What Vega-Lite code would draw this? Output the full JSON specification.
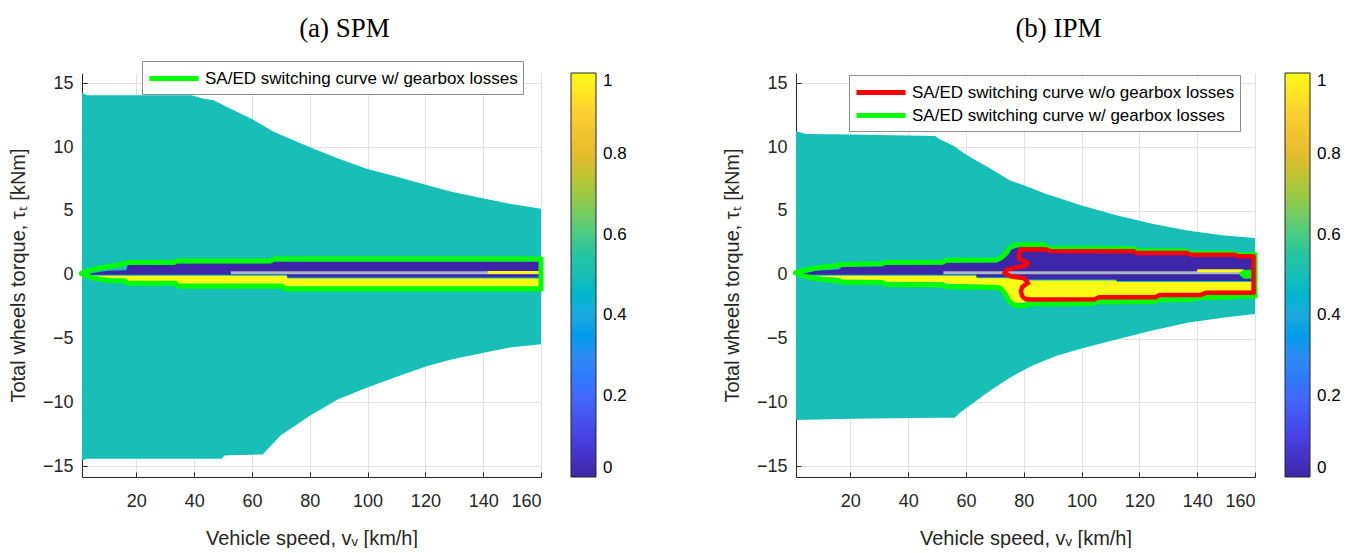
{
  "$schema": "https://vega.github.io/schema/vega-lite/v6.json",
  "background": "white",
  "padding": {"left": 8, "top": 14, "right": 0, "bottom": 0},
  "spacing": 95,
  "resolve": {
    "scale": {"fill": "independent", "stroke": "independent", "x": "independent", "y": "independent"},
    "legend": {"fill": "independent", "stroke": "independent"}
  },
  "datasets": {
    "spm_env": [
      {"x": 1.2, "hi": 14.24, "lo": -14.55, "v": 0.5},
      {"x": 3, "hi": 14.06, "lo": -14.42, "v": 0.5},
      {"x": 39, "hi": 14.06, "lo": -14.42, "v": 0.5},
      {"x": 43, "hi": 13.8, "lo": -14.42, "v": 0.5},
      {"x": 46.7, "hi": 13.66, "lo": -14.42, "v": 0.5},
      {"x": 49.5, "hi": 13.35, "lo": -14.42, "v": 0.5},
      {"x": 50.5, "hi": 13.24, "lo": -14.16, "v": 0.5},
      {"x": 52.6, "hi": 13.0, "lo": -14.14, "v": 0.5},
      {"x": 60, "hi": 12.2, "lo": -14.1, "v": 0.5},
      {"x": 63.7, "hi": 11.7, "lo": -14.08, "v": 0.5},
      {"x": 67.5, "hi": 11.2, "lo": -13.17, "v": 0.5},
      {"x": 69.9, "hi": 10.97, "lo": -12.6, "v": 0.5},
      {"x": 79.9, "hi": 10.0, "lo": -11.07, "v": 0.5},
      {"x": 89.8, "hi": 9.1, "lo": -9.76, "v": 0.5},
      {"x": 99.7, "hi": 8.3, "lo": -8.85, "v": 0.5},
      {"x": 110.8, "hi": 7.64, "lo": -7.93, "v": 0.5},
      {"x": 120.7, "hi": 7.0, "lo": -7.15, "v": 0.5},
      {"x": 129.4, "hi": 6.47, "lo": -6.62, "v": 0.5},
      {"x": 140.6, "hi": 5.94, "lo": -6.1, "v": 0.5},
      {"x": 149.2, "hi": 5.55, "lo": -5.7, "v": 0.5},
      {"x": 160, "hi": 5.16, "lo": -5.45, "v": 0.5}
    ],
    "spm_band": [
      {"r": "b", "v": 0, "x": 4, "hi": 0.1, "lo": 0.0},
      {"r": "b", "v": 0, "x": 10, "hi": 0.3, "lo": 0.0},
      {"r": "b", "v": 0, "x": 16.5, "hi": 0.35, "lo": 0.0},
      {"r": "b", "v": 0, "x": 17, "hi": 0.76, "lo": 0.0},
      {"r": "b", "v": 0, "x": 33, "hi": 0.76, "lo": 0.0},
      {"r": "b", "v": 0, "x": 34, "hi": 0.89, "lo": 0.0},
      {"r": "b", "v": 0, "x": 66.5, "hi": 0.89, "lo": 0.0},
      {"r": "b", "v": 0, "x": 67.5, "hi": 1.03, "lo": 0.0},
      {"r": "b", "v": 0, "x": 72, "hi": 1.03, "lo": 0.0},
      {"r": "b", "v": 0, "x": 72.3, "hi": 1.03, "lo": -0.22},
      {"r": "b", "v": 0, "x": 160, "hi": 1.03, "lo": -0.22},
      {"r": "y", "v": 1, "x": 4, "hi": -0.06, "lo": -0.12},
      {"r": "y", "v": 1, "x": 8, "hi": -0.08, "lo": -0.22},
      {"r": "y", "v": 1, "x": 12, "hi": -0.08, "lo": -0.28},
      {"r": "y", "v": 1, "x": 16, "hi": -0.08, "lo": -0.31},
      {"r": "y", "v": 1, "x": 17, "hi": -0.08, "lo": -0.49},
      {"r": "y", "v": 1, "x": 33.5, "hi": -0.08, "lo": -0.49},
      {"r": "y", "v": 1, "x": 34.5, "hi": -0.08, "lo": -0.71},
      {"r": "y", "v": 1, "x": 70.5, "hi": -0.08, "lo": -0.71},
      {"r": "y", "v": 1, "x": 71.5, "hi": -0.08, "lo": -0.93},
      {"r": "y", "v": 1, "x": 72, "hi": -0.08, "lo": -0.93},
      {"r": "y", "v": 1, "x": 72.3, "hi": -0.3, "lo": -0.93},
      {"r": "y", "v": 1, "x": 160, "hi": -0.3, "lo": -0.93}
    ],
    "spm_strip": [
      {"g": "gray", "x": 52.7, "y": 0.16},
      {"g": "gray", "x": 160, "y": 0.16},
      {"g": "yel", "x": 141.5, "y": 0.18},
      {"g": "yel", "x": 159.5, "y": 0.18}
    ],
    "spm_curve": [
      {"k": "SA/ED switching curve w/ gearbox losses", "p": "g1", "i": 0, "x": 1, "y": 0.1},
      {"k": "SA/ED switching curve w/ gearbox losses", "p": "g1", "i": 1, "x": 4, "y": 0.35},
      {"k": "SA/ED switching curve w/ gearbox losses", "p": "g1", "i": 2, "x": 8, "y": 0.55},
      {"k": "SA/ED switching curve w/ gearbox losses", "p": "g1", "i": 3, "x": 12, "y": 0.7},
      {"k": "SA/ED switching curve w/ gearbox losses", "p": "g1", "i": 4, "x": 16, "y": 0.85},
      {"k": "SA/ED switching curve w/ gearbox losses", "p": "g1", "i": 5, "x": 17, "y": 0.95},
      {"k": "SA/ED switching curve w/ gearbox losses", "p": "g1", "i": 6, "x": 33, "y": 0.95},
      {"k": "SA/ED switching curve w/ gearbox losses", "p": "g1", "i": 7, "x": 34, "y": 1.08},
      {"k": "SA/ED switching curve w/ gearbox losses", "p": "g1", "i": 8, "x": 66.5, "y": 1.08},
      {"k": "SA/ED switching curve w/ gearbox losses", "p": "g1", "i": 9, "x": 67.5, "y": 1.22},
      {"k": "SA/ED switching curve w/ gearbox losses", "p": "g1", "i": 10, "x": 160, "y": 1.22},
      {"k": "SA/ED switching curve w/ gearbox losses", "p": "g1", "i": 11, "x": 160, "y": -1.12},
      {"k": "SA/ED switching curve w/ gearbox losses", "p": "g1", "i": 12, "x": 71.5, "y": -1.12},
      {"k": "SA/ED switching curve w/ gearbox losses", "p": "g1", "i": 13, "x": 70.5, "y": -0.9},
      {"k": "SA/ED switching curve w/ gearbox losses", "p": "g1", "i": 14, "x": 34.5, "y": -0.9},
      {"k": "SA/ED switching curve w/ gearbox losses", "p": "g1", "i": 15, "x": 33.5, "y": -0.68},
      {"k": "SA/ED switching curve w/ gearbox losses", "p": "g1", "i": 16, "x": 17, "y": -0.68},
      {"k": "SA/ED switching curve w/ gearbox losses", "p": "g1", "i": 17, "x": 16, "y": -0.5},
      {"k": "SA/ED switching curve w/ gearbox losses", "p": "g1", "i": 18, "x": 12, "y": -0.47},
      {"k": "SA/ED switching curve w/ gearbox losses", "p": "g1", "i": 19, "x": 8, "y": -0.4},
      {"k": "SA/ED switching curve w/ gearbox losses", "p": "g1", "i": 20, "x": 4, "y": -0.2},
      {"k": "SA/ED switching curve w/ gearbox losses", "p": "g1", "i": 21, "x": 1, "y": 0.1}
    ],
    "ipm_env": [
      {"x": 1.2, "hi": 11.23, "lo": -11.39, "v": 0.5},
      {"x": 4.8, "hi": 11.02, "lo": -11.37, "v": 0.5},
      {"x": 20.9, "hi": 10.98, "lo": -11.28, "v": 0.5},
      {"x": 49.3, "hi": 10.86, "lo": -11.21, "v": 0.5},
      {"x": 50.6, "hi": 10.65, "lo": -11.21, "v": 0.5},
      {"x": 55.5, "hi": 10.13, "lo": -11.2, "v": 0.5},
      {"x": 56.1, "hi": 10.04, "lo": -11.2, "v": 0.5},
      {"x": 58, "hi": 9.73, "lo": -10.8, "v": 0.5},
      {"x": 60.4, "hi": 9.35, "lo": -10.4, "v": 0.5},
      {"x": 62.9, "hi": 9.03, "lo": -10.0, "v": 0.5},
      {"x": 66.6, "hi": 8.56, "lo": -9.37, "v": 0.5},
      {"x": 69.1, "hi": 8.22, "lo": -8.98, "v": 0.5},
      {"x": 75.3, "hi": 7.38, "lo": -8.06, "v": 0.5},
      {"x": 80.2, "hi": 6.99, "lo": -7.45, "v": 0.5},
      {"x": 82.7, "hi": 6.77, "lo": -7.15, "v": 0.5},
      {"x": 87.7, "hi": 6.33, "lo": -6.69, "v": 0.5},
      {"x": 91.4, "hi": 6.06, "lo": -6.36, "v": 0.5},
      {"x": 100, "hi": 5.42, "lo": -5.79, "v": 0.5},
      {"x": 112.4, "hi": 4.63, "lo": -5.05, "v": 0.5},
      {"x": 124.8, "hi": 3.98, "lo": -4.35, "v": 0.5},
      {"x": 137.1, "hi": 3.45, "lo": -3.74, "v": 0.5},
      {"x": 149.5, "hi": 3.06, "lo": -3.35, "v": 0.5},
      {"x": 160, "hi": 2.88, "lo": -3.09, "v": 0.5}
    ],
    "ipm_band": [
      {"r": "b", "v": 0, "x": 4, "hi": 0.1, "lo": 0.0},
      {"r": "b", "v": 0, "x": 8, "hi": 0.3, "lo": 0.0},
      {"r": "b", "v": 0, "x": 16, "hi": 0.4, "lo": 0.0},
      {"r": "b", "v": 0, "x": 17, "hi": 0.6, "lo": 0.0},
      {"r": "b", "v": 0, "x": 31, "hi": 0.66, "lo": 0.0},
      {"r": "b", "v": 0, "x": 32, "hi": 0.78, "lo": 0.0},
      {"r": "b", "v": 0, "x": 52, "hi": 0.8, "lo": 0.0},
      {"r": "b", "v": 0, "x": 53, "hi": 0.95, "lo": 0.0},
      {"r": "b", "v": 0, "x": 63.5, "hi": 0.96, "lo": 0.0},
      {"r": "b", "v": 0, "x": 63.7, "hi": 0.96, "lo": -0.2},
      {"r": "b", "v": 0, "x": 70.5, "hi": 0.97, "lo": -0.2},
      {"r": "b", "v": 0, "x": 72, "hi": 1.1, "lo": -0.2},
      {"r": "b", "v": 0, "x": 74, "hi": 1.5, "lo": -0.2},
      {"r": "b", "v": 0, "x": 75.5, "hi": 1.95, "lo": -0.2},
      {"r": "b", "v": 0, "x": 78, "hi": 2.15, "lo": -0.2},
      {"r": "b", "v": 0, "x": 79.8, "hi": 2.15, "lo": -0.2},
      {"r": "b", "v": 0, "x": 80, "hi": 2.15, "lo": -0.38},
      {"r": "b", "v": 0, "x": 87, "hi": 2.15, "lo": -0.38},
      {"r": "b", "v": 0, "x": 88, "hi": 1.9, "lo": -0.38},
      {"r": "b", "v": 0, "x": 112, "hi": 1.87, "lo": -0.38},
      {"r": "b", "v": 0, "x": 112.2, "hi": 1.87, "lo": -0.5},
      {"r": "b", "v": 0, "x": 118, "hi": 1.85, "lo": -0.5},
      {"r": "b", "v": 0, "x": 119, "hi": 1.7, "lo": -0.5},
      {"r": "b", "v": 0, "x": 136, "hi": 1.68, "lo": -0.5},
      {"r": "b", "v": 0, "x": 137, "hi": 1.53, "lo": -0.5},
      {"r": "b", "v": 0, "x": 152, "hi": 1.5, "lo": -0.5},
      {"r": "b", "v": 0, "x": 153, "hi": 1.4, "lo": -0.5},
      {"r": "b", "v": 0, "x": 160, "hi": 1.4, "lo": -0.5},
      {"r": "y", "v": 1, "x": 4, "hi": -0.06, "lo": -0.1},
      {"r": "y", "v": 1, "x": 8, "hi": -0.08, "lo": -0.15},
      {"r": "y", "v": 1, "x": 16, "hi": -0.08, "lo": -0.25},
      {"r": "y", "v": 1, "x": 17, "hi": -0.08, "lo": -0.38},
      {"r": "y", "v": 1, "x": 31, "hi": -0.08, "lo": -0.42},
      {"r": "y", "v": 1, "x": 32, "hi": -0.08, "lo": -0.56},
      {"r": "y", "v": 1, "x": 52, "hi": -0.08, "lo": -0.6},
      {"r": "y", "v": 1, "x": 53, "hi": -0.08, "lo": -0.72},
      {"r": "y", "v": 1, "x": 63.5, "hi": -0.08, "lo": -0.76},
      {"r": "y", "v": 1, "x": 63.7, "hi": -0.28, "lo": -0.76},
      {"r": "y", "v": 1, "x": 70.5, "hi": -0.28, "lo": -0.8},
      {"r": "y", "v": 1, "x": 72, "hi": -0.28, "lo": -0.9},
      {"r": "y", "v": 1, "x": 73.5, "hi": -0.28, "lo": -1.3},
      {"r": "y", "v": 1, "x": 75, "hi": -0.28, "lo": -1.9},
      {"r": "y", "v": 1, "x": 77, "hi": -0.28, "lo": -2.2},
      {"r": "y", "v": 1, "x": 79.8, "hi": -0.28, "lo": -2.2},
      {"r": "y", "v": 1, "x": 80, "hi": -0.46, "lo": -2.2},
      {"r": "y", "v": 1, "x": 82, "hi": -0.46, "lo": -2.05},
      {"r": "y", "v": 1, "x": 104, "hi": -0.46, "lo": -2.0},
      {"r": "y", "v": 1, "x": 105, "hi": -0.46, "lo": -1.9},
      {"r": "y", "v": 1, "x": 112, "hi": -0.46, "lo": -1.88},
      {"r": "y", "v": 1, "x": 112.2, "hi": -0.58, "lo": -1.88},
      {"r": "y", "v": 1, "x": 125, "hi": -0.58, "lo": -1.85},
      {"r": "y", "v": 1, "x": 126, "hi": -0.58, "lo": -1.72},
      {"r": "y", "v": 1, "x": 139, "hi": -0.58, "lo": -1.68},
      {"r": "y", "v": 1, "x": 140, "hi": -0.58, "lo": -1.55},
      {"r": "y", "v": 1, "x": 152, "hi": -0.58, "lo": -1.5},
      {"r": "y", "v": 1, "x": 153, "hi": -0.58, "lo": -1.45},
      {"r": "y", "v": 1, "x": 160, "hi": -0.58, "lo": -1.45}
    ],
    "ipm_strip": [
      {"g": "gray", "x": 52.2, "y": 0.16},
      {"g": "gray", "x": 160, "y": 0.16},
      {"g": "yel", "x": 140, "y": 0.3},
      {"g": "yel", "x": 156, "y": 0.3}
    ],
    "ipm_green": [
      {"k": "SA/ED switching curve w/ gearbox losses", "p": "g1", "i": 0, "x": 1, "y": 0.15},
      {"k": "SA/ED switching curve w/ gearbox losses", "p": "g1", "i": 1, "x": 4, "y": 0.35},
      {"k": "SA/ED switching curve w/ gearbox losses", "p": "g1", "i": 2, "x": 8, "y": 0.52},
      {"k": "SA/ED switching curve w/ gearbox losses", "p": "g1", "i": 3, "x": 12, "y": 0.62},
      {"k": "SA/ED switching curve w/ gearbox losses", "p": "g1", "i": 4, "x": 16, "y": 0.74},
      {"k": "SA/ED switching curve w/ gearbox losses", "p": "g1", "i": 5, "x": 17, "y": 0.8},
      {"k": "SA/ED switching curve w/ gearbox losses", "p": "g1", "i": 6, "x": 31, "y": 0.85},
      {"k": "SA/ED switching curve w/ gearbox losses", "p": "g1", "i": 7, "x": 32, "y": 0.95},
      {"k": "SA/ED switching curve w/ gearbox losses", "p": "g1", "i": 8, "x": 52, "y": 0.98},
      {"k": "SA/ED switching curve w/ gearbox losses", "p": "g1", "i": 9, "x": 53, "y": 1.13},
      {"k": "SA/ED switching curve w/ gearbox losses", "p": "g1", "i": 10, "x": 70.5, "y": 1.15},
      {"k": "SA/ED switching curve w/ gearbox losses", "p": "g1", "i": 11, "x": 72, "y": 1.3},
      {"k": "SA/ED switching curve w/ gearbox losses", "p": "g1", "i": 12, "x": 74, "y": 1.7},
      {"k": "SA/ED switching curve w/ gearbox losses", "p": "g1", "i": 13, "x": 75, "y": 2.1},
      {"k": "SA/ED switching curve w/ gearbox losses", "p": "g1", "i": 14, "x": 77, "y": 2.35},
      {"k": "SA/ED switching curve w/ gearbox losses", "p": "g1", "i": 15, "x": 87, "y": 2.35},
      {"k": "SA/ED switching curve w/ gearbox losses", "p": "g1", "i": 16, "x": 88, "y": 2.1},
      {"k": "SA/ED switching curve w/ gearbox losses", "p": "g1", "i": 17, "x": 118, "y": 2.05},
      {"k": "SA/ED switching curve w/ gearbox losses", "p": "g1", "i": 18, "x": 119, "y": 1.9},
      {"k": "SA/ED switching curve w/ gearbox losses", "p": "g1", "i": 19, "x": 136, "y": 1.88},
      {"k": "SA/ED switching curve w/ gearbox losses", "p": "g1", "i": 20, "x": 137, "y": 1.72},
      {"k": "SA/ED switching curve w/ gearbox losses", "p": "g1", "i": 21, "x": 152, "y": 1.7},
      {"k": "SA/ED switching curve w/ gearbox losses", "p": "g1", "i": 22, "x": 153, "y": 1.58},
      {"k": "SA/ED switching curve w/ gearbox losses", "p": "g1", "i": 23, "x": 160, "y": 1.58},
      {"k": "SA/ED switching curve w/ gearbox losses", "p": "g1", "i": 24, "x": 160, "y": -1.68},
      {"k": "SA/ED switching curve w/ gearbox losses", "p": "g1", "i": 25, "x": 153, "y": -1.68},
      {"k": "SA/ED switching curve w/ gearbox losses", "p": "g1", "i": 26, "x": 152, "y": -1.75},
      {"k": "SA/ED switching curve w/ gearbox losses", "p": "g1", "i": 27, "x": 140, "y": -1.8},
      {"k": "SA/ED switching curve w/ gearbox losses", "p": "g1", "i": 28, "x": 139, "y": -1.92},
      {"k": "SA/ED switching curve w/ gearbox losses", "p": "g1", "i": 29, "x": 126, "y": -1.98},
      {"k": "SA/ED switching curve w/ gearbox losses", "p": "g1", "i": 30, "x": 125, "y": -2.1},
      {"k": "SA/ED switching curve w/ gearbox losses", "p": "g1", "i": 31, "x": 105, "y": -2.15},
      {"k": "SA/ED switching curve w/ gearbox losses", "p": "g1", "i": 32, "x": 104, "y": -2.25},
      {"k": "SA/ED switching curve w/ gearbox losses", "p": "g1", "i": 33, "x": 82, "y": -2.3},
      {"k": "SA/ED switching curve w/ gearbox losses", "p": "g1", "i": 34, "x": 80, "y": -2.45},
      {"k": "SA/ED switching curve w/ gearbox losses", "p": "g1", "i": 35, "x": 77, "y": -2.42},
      {"k": "SA/ED switching curve w/ gearbox losses", "p": "g1", "i": 36, "x": 75, "y": -2.1},
      {"k": "SA/ED switching curve w/ gearbox losses", "p": "g1", "i": 37, "x": 73.5, "y": -1.5},
      {"k": "SA/ED switching curve w/ gearbox losses", "p": "g1", "i": 38, "x": 72, "y": -1.08},
      {"k": "SA/ED switching curve w/ gearbox losses", "p": "g1", "i": 39, "x": 70.5, "y": -1.0},
      {"k": "SA/ED switching curve w/ gearbox losses", "p": "g1", "i": 40, "x": 53, "y": -0.95},
      {"k": "SA/ED switching curve w/ gearbox losses", "p": "g1", "i": 41, "x": 52, "y": -0.8},
      {"k": "SA/ED switching curve w/ gearbox losses", "p": "g1", "i": 42, "x": 32, "y": -0.77},
      {"k": "SA/ED switching curve w/ gearbox losses", "p": "g1", "i": 43, "x": 31, "y": -0.62},
      {"k": "SA/ED switching curve w/ gearbox losses", "p": "g1", "i": 44, "x": 17, "y": -0.6},
      {"k": "SA/ED switching curve w/ gearbox losses", "p": "g1", "i": 45, "x": 16, "y": -0.5},
      {"k": "SA/ED switching curve w/ gearbox losses", "p": "g1", "i": 46, "x": 12, "y": -0.42},
      {"k": "SA/ED switching curve w/ gearbox losses", "p": "g1", "i": 47, "x": 8, "y": -0.3},
      {"k": "SA/ED switching curve w/ gearbox losses", "p": "g1", "i": 48, "x": 4, "y": -0.12},
      {"k": "SA/ED switching curve w/ gearbox losses", "p": "g1", "i": 49, "x": 1, "y": 0.15},
      {"k": "SA/ED switching curve w/ gearbox losses", "p": "g2", "i": 0, "x": 155.5, "y": 0.05},
      {"k": "SA/ED switching curve w/ gearbox losses", "p": "g2", "i": 1, "x": 156.5, "y": 0.2},
      {"k": "SA/ED switching curve w/ gearbox losses", "p": "g2", "i": 2, "x": 158.5, "y": 0.2},
      {"k": "SA/ED switching curve w/ gearbox losses", "p": "g2", "i": 3, "x": 159.3, "y": 0.05},
      {"k": "SA/ED switching curve w/ gearbox losses", "p": "g2", "i": 4, "x": 158.5, "y": -0.12},
      {"k": "SA/ED switching curve w/ gearbox losses", "p": "g2", "i": 5, "x": 156.5, "y": -0.12},
      {"k": "SA/ED switching curve w/ gearbox losses", "p": "g2", "i": 6, "x": 155.5, "y": 0.05}
    ],
    "ipm_red": [
      {"k": "SA/ED switching curve w/o gearbox losses", "p": "r1", "i": 0, "x": 79, "y": 2.0},
      {"k": "SA/ED switching curve w/o gearbox losses", "p": "r1", "i": 1, "x": 88, "y": 1.98},
      {"k": "SA/ED switching curve w/o gearbox losses", "p": "r1", "i": 2, "x": 89, "y": 1.85},
      {"k": "SA/ED switching curve w/o gearbox losses", "p": "r1", "i": 3, "x": 118, "y": 1.83},
      {"k": "SA/ED switching curve w/o gearbox losses", "p": "r1", "i": 4, "x": 119, "y": 1.7},
      {"k": "SA/ED switching curve w/o gearbox losses", "p": "r1", "i": 5, "x": 136.5, "y": 1.7},
      {"k": "SA/ED switching curve w/o gearbox losses", "p": "r1", "i": 6, "x": 137.5, "y": 1.57},
      {"k": "SA/ED switching curve w/o gearbox losses", "p": "r1", "i": 7, "x": 153, "y": 1.57},
      {"k": "SA/ED switching curve w/o gearbox losses", "p": "r1", "i": 8, "x": 154, "y": 1.44},
      {"k": "SA/ED switching curve w/o gearbox losses", "p": "r1", "i": 9, "x": 159.5, "y": 1.44},
      {"k": "SA/ED switching curve w/o gearbox losses", "p": "r1", "i": 10, "x": 159.5, "y": -1.42},
      {"k": "SA/ED switching curve w/o gearbox losses", "p": "r1", "i": 11, "x": 143, "y": -1.42},
      {"k": "SA/ED switching curve w/o gearbox losses", "p": "r1", "i": 12, "x": 141, "y": -1.6},
      {"k": "SA/ED switching curve w/o gearbox losses", "p": "r1", "i": 13, "x": 127, "y": -1.6},
      {"k": "SA/ED switching curve w/o gearbox losses", "p": "r1", "i": 14, "x": 125.5, "y": -1.77},
      {"k": "SA/ED switching curve w/o gearbox losses", "p": "r1", "i": 15, "x": 106, "y": -1.77},
      {"k": "SA/ED switching curve w/o gearbox losses", "p": "r1", "i": 16, "x": 104.5, "y": -1.92},
      {"k": "SA/ED switching curve w/o gearbox losses", "p": "r1", "i": 17, "x": 82, "y": -1.95},
      {"k": "SA/ED switching curve w/o gearbox losses", "p": "r1", "i": 18, "x": 80.5, "y": -1.9},
      {"k": "SA/ED switching curve w/o gearbox losses", "p": "r1", "i": 19, "x": 79.5, "y": -1.7},
      {"k": "SA/ED switching curve w/o gearbox losses", "p": "r1", "i": 20, "x": 79, "y": -1.3},
      {"k": "SA/ED switching curve w/o gearbox losses", "p": "r1", "i": 21, "x": 79.5, "y": -0.95},
      {"k": "SA/ED switching curve w/o gearbox losses", "p": "r1", "i": 22, "x": 81.5, "y": -0.65},
      {"k": "SA/ED switching curve w/o gearbox losses", "p": "r1", "i": 23, "x": 80, "y": -0.28},
      {"k": "SA/ED switching curve w/o gearbox losses", "p": "r1", "i": 24, "x": 75.5, "y": -0.12},
      {"k": "SA/ED switching curve w/o gearbox losses", "p": "r1", "i": 25, "x": 73.3, "y": 0.12},
      {"k": "SA/ED switching curve w/o gearbox losses", "p": "r1", "i": 26, "x": 74.2, "y": 0.4},
      {"k": "SA/ED switching curve w/o gearbox losses", "p": "r1", "i": 27, "x": 77, "y": 0.55},
      {"k": "SA/ED switching curve w/o gearbox losses", "p": "r1", "i": 28, "x": 80.5, "y": 0.7},
      {"k": "SA/ED switching curve w/o gearbox losses", "p": "r1", "i": 29, "x": 81.5, "y": 0.9},
      {"k": "SA/ED switching curve w/o gearbox losses", "p": "r1", "i": 30, "x": 80, "y": 1.05},
      {"k": "SA/ED switching curve w/o gearbox losses", "p": "r1", "i": 31, "x": 78.3, "y": 1.3},
      {"k": "SA/ED switching curve w/o gearbox losses", "p": "r1", "i": 32, "x": 78.5, "y": 1.7},
      {"k": "SA/ED switching curve w/o gearbox losses", "p": "r1", "i": 33, "x": 79, "y": 2.0}
    ]
  },
  "hconcat": [
    {
      "title": {"text": "(a) SPM", "offset": 18},
      "width": 459,
      "height": 404,
      "layer": [
        {
          "data": {"name": "spm_env"},
          "mark": {"type": "area"},
          "encoding": {
            "x": {"field": "x", "type": "quantitative", "scale": {"domain": [1.2, 160], "nice": false, "zero": false},
              "axis": {"title": "Vehicle speed, vᵥ [km/h]", "values": [20, 40, 60, 80, 100, 120, 140, 160]}},
            "y": {"field": "hi", "type": "quantitative", "scale": {"domain": [-15.85, 15.8], "nice": false, "zero": false},
              "axis": {"title": "Total wheels torque, τₜ [kNm]", "values": [-15, -10, -5, 0, 5, 10, 15]}},
            "y2": {"field": "lo"},
            "fill": {"field": "v", "type": "quantitative",
              "scale": {"domain": [0, 1], "range": ["#3e26a8", "#4741e5", "#4269fe", "#2d8cf3", "#1ca9df", "#18bfb6", "#4acb84", "#9dc943", "#e6bb2d", "#fccf30", "#f9fb14"]},
              "legend": {"orient": "right", "offset": 27, "title": null, "direction": "vertical", "gradientLength": 404, "gradientThickness": 25, "values": [0, 0.2, 0.4, 0.6, 0.8, 1], "format": "~g", "labelOffset": 7, "labelOverlap": false, "gradientStrokeColor": "#262626", "gradientStrokeWidth": 1}}
          }
        },
        {
          "data": {"name": "spm_band"},
          "mark": {"type": "area"},
          "encoding": {
            "x": {"field": "x", "type": "quantitative"},
            "y": {"field": "hi", "type": "quantitative"},
            "y2": {"field": "lo"},
            "fill": {"field": "v", "type": "quantitative"},
            "detail": {"field": "r"}
          }
        },
        {
          "data": {"name": "spm_strip"},
          "transform": [{"filter": "datum.g === 'gray'"}],
          "mark": {"type": "line", "stroke": "#a9b6c6", "strokeWidth": 3},
          "encoding": {
            "x": {"field": "x", "type": "quantitative"},
            "y": {"field": "y", "type": "quantitative"}
          }
        },
        {
          "data": {"name": "spm_strip"},
          "transform": [{"filter": "datum.g === 'yel'"}],
          "mark": {"type": "line", "stroke": "#f9fb14", "strokeWidth": 3},
          "encoding": {
            "x": {"field": "x", "type": "quantitative"},
            "y": {"field": "y", "type": "quantitative"}
          }
        },
        {
          "data": {"name": "spm_curve"},
          "mark": {"type": "line", "strokeWidth": 5, "strokeJoin": "round", "strokeCap": "round"},
          "encoding": {
            "x": {"field": "x", "type": "quantitative"},
            "y": {"field": "y", "type": "quantitative"},
            "order": {"field": "i", "type": "quantitative"},
            "detail": {"field": "p"},
            "stroke": {"field": "k", "type": "nominal",
              "scale": {"domain": ["SA/ED switching curve w/ gearbox losses"], "range": ["#00ff00"]},
              "legend": {"orient": "none", "legendX": 60, "legendY": -12, "title": null, "symbolType": "M-1,0H3.9", "symbolStrokeWidth": 5, "symbolSize": 400, "labelOffset": 33, "padding": 5, "strokeColor": "#8c8c8c", "fillColor": "white"}}
          }
        }
      ]
    },
    {
      "title": {"text": "(b) IPM", "offset": 30},
      "width": 459,
      "height": 404,
      "layer": [
        {
          "data": {"name": "ipm_env"},
          "mark": {"type": "area"},
          "encoding": {
            "x": {"field": "x", "type": "quantitative", "scale": {"domain": [1.2, 160], "nice": false, "zero": false},
              "axis": {"title": "Vehicle speed, vᵥ [km/h]", "values": [20, 40, 60, 80, 100, 120, 140, 160]}},
            "y": {"field": "hi", "type": "quantitative", "scale": {"domain": [-15.85, 15.8], "nice": false, "zero": false},
              "axis": {"title": "Total wheels torque, τₜ [kNm]", "values": [-15, -10, -5, 0, 5, 10, 15]}},
            "y2": {"field": "lo"},
            "fill": {"field": "v", "type": "quantitative",
              "scale": {"domain": [0, 1], "range": ["#3e26a8", "#4741e5", "#4269fe", "#2d8cf3", "#1ca9df", "#18bfb6", "#4acb84", "#9dc943", "#e6bb2d", "#fccf30", "#f9fb14"]},
              "legend": {"orient": "right", "offset": 27, "title": null, "direction": "vertical", "gradientLength": 404, "gradientThickness": 25, "values": [0, 0.2, 0.4, 0.6, 0.8, 1], "format": "~g", "labelOffset": 7, "labelOverlap": false, "gradientStrokeColor": "#262626", "gradientStrokeWidth": 1}}
          }
        },
        {
          "data": {"name": "ipm_band"},
          "mark": {"type": "area"},
          "encoding": {
            "x": {"field": "x", "type": "quantitative"},
            "y": {"field": "hi", "type": "quantitative"},
            "y2": {"field": "lo"},
            "fill": {"field": "v", "type": "quantitative"},
            "detail": {"field": "r"}
          }
        },
        {
          "data": {"name": "ipm_strip"},
          "transform": [{"filter": "datum.g === 'gray'"}],
          "mark": {"type": "line", "stroke": "#a9b6c6", "strokeWidth": 3},
          "encoding": {
            "x": {"field": "x", "type": "quantitative"},
            "y": {"field": "y", "type": "quantitative"}
          }
        },
        {
          "data": {"name": "ipm_strip"},
          "transform": [{"filter": "datum.g === 'yel'"}],
          "mark": {"type": "line", "stroke": "#f9fb14", "strokeWidth": 3},
          "encoding": {
            "x": {"field": "x", "type": "quantitative"},
            "y": {"field": "y", "type": "quantitative"}
          }
        },
        {
          "data": {"name": "ipm_green"},
          "mark": {"type": "line", "strokeWidth": 5, "strokeJoin": "round", "strokeCap": "round"},
          "encoding": {
            "x": {"field": "x", "type": "quantitative"},
            "y": {"field": "y", "type": "quantitative"},
            "order": {"field": "i", "type": "quantitative"},
            "detail": {"field": "p"},
            "stroke": {"field": "k", "type": "nominal",
              "scale": {"domain": ["SA/ED switching curve w/o gearbox losses", "SA/ED switching curve w/ gearbox losses"], "range": ["#ff0000", "#00ff00"]},
              "legend": {"orient": "none", "legendX": 53, "legendY": 2, "title": null, "symbolType": "M-1,0H3.9", "symbolStrokeWidth": 5, "symbolSize": 400, "labelOffset": 33, "padding": 5, "rowPadding": 0, "strokeColor": "#8c8c8c", "fillColor": "white"}}
          }
        },
        {
          "data": {"name": "ipm_red"},
          "mark": {"type": "line", "strokeWidth": 4.5, "strokeJoin": "round", "strokeCap": "round"},
          "encoding": {
            "x": {"field": "x", "type": "quantitative"},
            "y": {"field": "y", "type": "quantitative"},
            "order": {"field": "i", "type": "quantitative"},
            "detail": {"field": "p"},
            "stroke": {"field": "k", "type": "nominal"}
          }
        }
      ]
    }
  ],
  "config": {
    "view": {"stroke": null},
    "font": "Liberation Sans",
    "title": {"font": "Liberation Serif", "fontSize": 27, "fontWeight": "normal", "color": "#000000", "anchor": "middle", "frame": "group", "dx": 33},
    "axis": {
      "labelFont": "Liberation Sans", "titleFont": "Liberation Sans",
      "labelFontSize": 18, "titleFontSize": 20, "titleFontWeight": "normal",
      "labelColor": "#262626", "titleColor": "#262626",
      "domainColor": "#262626", "tickColor": "#262626", "domainWidth": 1, "tickWidth": 1,
      "tickSize": -5, "labelPadding": 14,
      "gridColor": "#e1e1e1", "gridWidth": 1, "grid": true
    },
    "axisY": {"titlePadding": 14},
    "axisX": {"titlePadding": 18, "labelPadding": 20},
    "legend": {
      "labelFont": "Liberation Sans", "labelFontSize": 17, "labelColor": "#000000", "labelLimit": 500,
      "gradientVerticalMaxLength": 600
    }
  }
}
